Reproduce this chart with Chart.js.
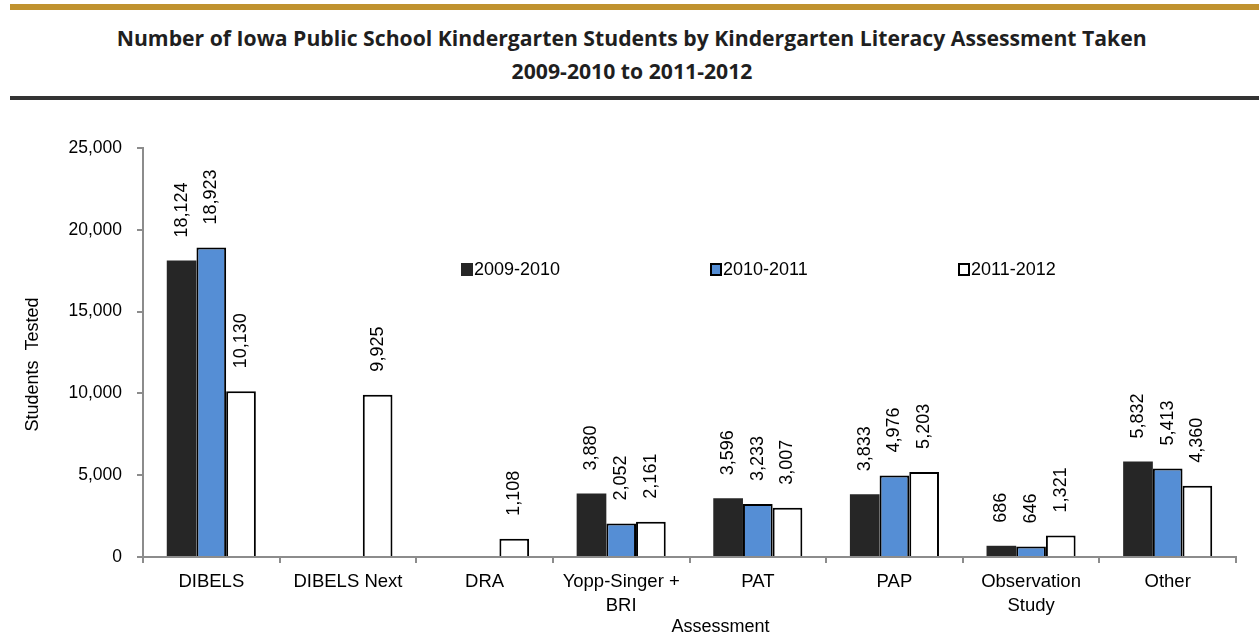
<!DOCTYPE html>
<html>
<head>
<meta charset="utf-8">
<script src="https://cdn.jsdelivr.net/npm/chart.js@4.4.1/dist/chart.umd.min.js"></script>
<style>
  html, body { margin: 0; padding: 0; background: #fff; }
  #page { position: relative; width: 1259px; height: 639px; overflow: hidden; }
  #goldBar { position: absolute; left: 10px; right: 0; top: 4px; height: 6px; background: #c0922f; }
  #darkBar { position: absolute; left: 10px; right: 0; top: 96px; height: 4px; background: #333; }
  .title { position: absolute; left: 0; width: 1264px; text-align: center; font-family: "Open Sans", sans-serif; font-weight: 700; font-size: 22px; color: #1f1f1f; line-height: 26px; }
  .title span { display: inline-block; transform-origin: center; white-space: nowrap; }
  #chartBox { position: absolute; left: 0; top: 105px; }
</style>
</head>
<body>
<div id="page">
  <div id="goldBar"></div>
  <div class="title" style="top: 24px;"><span id="t1">Number of Iowa Public School Kindergarten Students by Kindergarten Literacy Assessment Taken</span></div>
  <div class="title" style="top: 57px;"><span id="t2">2009-2010 to 2011-2012</span></div>
  <div id="darkBar"></div>
  <canvas id="chartBox" width="1259" height="534"></canvas>
</div>
<script>
const categories = ['DIBELS', 'DIBELS Next', 'DRA', ['Yopp-Singer +', 'BRI'], 'PAT', 'PAP', ['Observation', 'Study'], 'Other'];
const seriesNames = ['2009-2010', '2010-2011', '2011-2012'];
const values0910 = [18124, null, null, 3880, 3596, 3833, 686, 5832];
const values1011 = [18923, null, null, 2052, 3233, 4976, 646, 5413];
const values1112 = [10130, 9925, 1108, 2161, 3007, 5203, 1321, 4360];
const yTicks = [0, 5000, 10000, 15000, 20000, 25000];

// squeeze the title a bit so it has the narrow look of the original
const t1 = document.getElementById('t1');
const scale = 1030 / t1.getBoundingClientRect().width;
t1.style.transform = 'scaleX(' + scale + ')';
document.getElementById('t2').style.transform = 'scaleX(' + scale + ')';

Chart.defaults.font.family = '"Liberation Sans", Arial, sans-serif';
Chart.defaults.color = '#000';

const axisGray = '#8c8c8c';

const barLabels = {
    id: 'barLabels',
    afterDatasetsDraw(chart) {
        const ctx = chart.ctx;
        ctx.save();
        ctx.font = '18px "Liberation Sans", Arial, sans-serif';
        ctx.fillStyle = '#000';
        ctx.textAlign = 'left';
        ctx.textBaseline = 'middle';
        chart.data.datasets.forEach((ds, i) => {
            const meta = chart.getDatasetMeta(i);
            meta.data.forEach((bar, j) => {
                const v = ds.data[j];
                if (v == null) return;
                ctx.save();
                ctx.translate(bar.x, bar.y - 23);
                ctx.rotate(-Math.PI / 2);
                ctx.fillText(v.toLocaleString('en-US'), 0, 0);
                ctx.restore();
            });
        });
        ctx.restore();
    }
};

// legend sits inside the plot area in the original
const insideLegend = {
    id: 'insideLegend',
    afterDraw(chart, args, opts) {
        const ctx = chart.ctx;
        ctx.save();
        ctx.font = '18px "Liberation Sans", Arial, sans-serif';
        ctx.textBaseline = 'middle';
        ctx.textAlign = 'left';
        chart.data.datasets.forEach((ds, i) => {
            const x = opts.xs[i];
            const y = opts.y;
            ctx.fillStyle = ds.backgroundColor;
            ctx.fillRect(x, y - 7, 12, 13);
            if (ds.borderWidth) {
                ctx.strokeStyle = '#000';
                ctx.lineWidth = 2;
                ctx.strokeRect(x + 1, y - 6, 10, 11);
            }
            ctx.fillStyle = '#000';
            ctx.fillText(ds.label, x + 13, y);
        });
        ctx.restore();
    }
};

// axis titles are a little off-centre in the original, so place them by hand
const axisTitles = {
    id: 'axisTitles',
    afterDraw(chart, args, opts) {
        const ctx = chart.ctx;
        const area = chart.chartArea;
        ctx.save();
        ctx.font = '18px "Liberation Sans", Arial, sans-serif';
        ctx.fillStyle = '#000';
        ctx.textAlign = 'center';
        ctx.textBaseline = 'middle';
        ctx.fillText(opts.x, (area.left + area.right) / 2 + 31, chart.height - 12);
        ctx.translate(33, (area.top + area.bottom) / 2 + 12);
        ctx.rotate(-Math.PI / 2);
        ctx.fillText(opts.y, 0, 0);
        ctx.restore();
    }
};

new Chart(document.getElementById('chartBox').getContext('2d'), {
    type: 'bar',
    data: {
        labels: categories,
        datasets: [
            { label: seriesNames[0], data: values0910, backgroundColor: '#262626', borderWidth: 0 },
            { label: seriesNames[1], data: values1011, backgroundColor: '#558ed5', borderColor: '#000', borderWidth: 2 },
            { label: seriesNames[2], data: values1112, backgroundColor: '#ffffff', borderColor: '#000', borderWidth: 2 }
        ]
    },
    options: {
        responsive: false,
        animation: false,
        maintainAspectRatio: false,
        categoryPercentage: 0.652,
        barPercentage: 1.0,
        layout: { padding: { left: 10, right: 23, top: 43, bottom: 0 } },
        scales: {
            y: {
                min: 0,
                max: 25000,
                afterBuildTicks: s => { s.ticks = yTicks.map(v => ({ value: v })); },
                afterFit: s => { s.width = 133; },
                ticks: { padding: 15, font: { size: 17.5 } },
                grid: { drawOnChartArea: false, tickLength: 6, color: axisGray, lineWidth: 2 },
                border: { color: axisGray, width: 2 }
            },
            x: {
                afterFit: s => { s.height = 82; },
                ticks: { padding: 7, font: { size: 18.5, lineHeight: 1.3 }, maxRotation: 0, autoSkip: false },
                grid: { drawOnChartArea: false, tickLength: 6, color: axisGray, lineWidth: 2 },
                border: { color: axisGray, width: 2 }
            }
        },
        plugins: {
            legend: { display: false },
            tooltip: { enabled: false },
            insideLegend: { xs: [461, 710, 958], y: 165 },
            axisTitles: { x: 'Assessment', y: 'Students  Tested' }
        }
    },
    plugins: [barLabels, insideLegend, axisTitles]
});
</script>
</body>
</html>
